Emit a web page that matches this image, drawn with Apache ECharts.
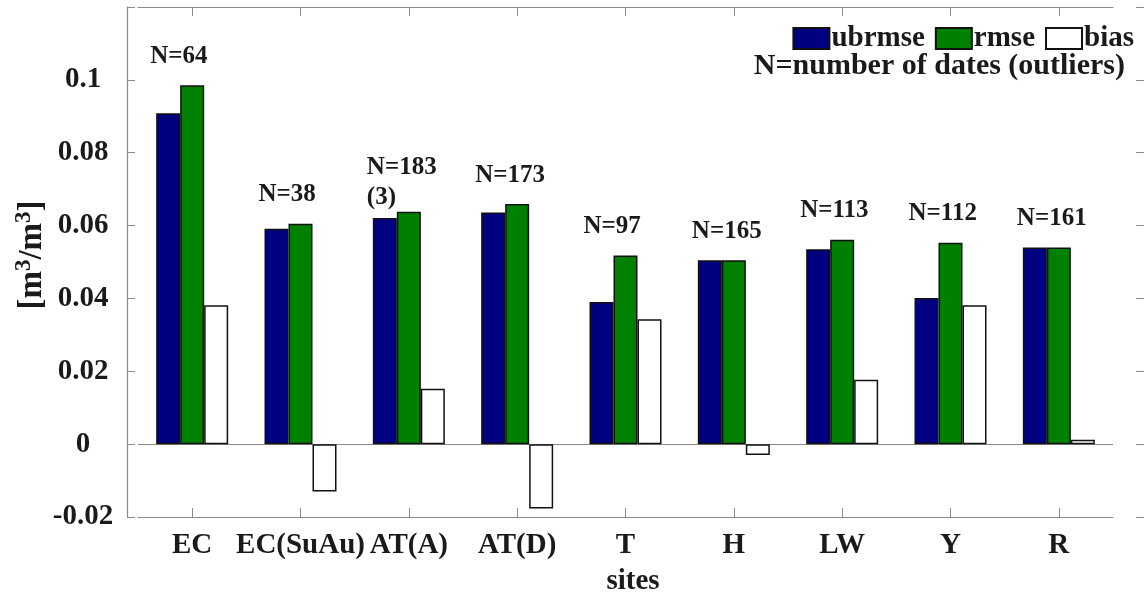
<!DOCTYPE html>
<html>
<head>
<meta charset="utf-8">
<script src="https://cdn.jsdelivr.net/npm/echarts@6/dist/echarts.min.js"></script>
<style>
  html, body { margin: 0; padding: 0; background: #ffffff; }
  #chart { width: 1144px; height: 601px; }
</style>
</head>
<body>
<div id="chart"></div>
<script>
// Soil moisture error metrics per site
const sites    = ['EC', 'EC(SuAu)', 'AT(A)', 'AT(D)', 'T', 'H', 'LW', 'Y', 'R'];
const ubrmse   = [0.0908, 0.0591, 0.0621, 0.0636, 0.0390, 0.0505, 0.0535, 0.0401, 0.0540];
const rmse     = [0.0985, 0.0605, 0.0638, 0.0659, 0.0518, 0.0505, 0.0561, 0.0553, 0.0540];
const bias     = [0.0381, -0.0130, 0.0152, -0.0177, 0.0343, -0.0030, 0.0177, 0.0381, 0.0012];
const nDates   = [64, 38, 183, 173, 97, 165, 113, 112, 161];
const outliers = [null, null, 3, null, null, null, null, null, null];
const yTicks   = { min: -0.02, max: 0.12, step: 0.02 };

const FONT = 'Liberation Serif';
const TEXT = '#1a1a1a';
const AXIS = '#8a8a8a';
const EDGE = '#111111';

function nLabel(i) {
  return 'N=' + nDates[i] + (outliers[i] != null ? '\n(' + outliers[i] + ')' : '');
}

const chart = echarts.init(document.getElementById('chart'), null, { renderer: 'canvas' });

const barBase = {
  type: 'bar',
  barWidth: 24,
  barGap: '0%'
};

chart.setOption({
  animation: false,
  backgroundColor: '#ffffff',
  textStyle: { fontFamily: FONT, fontWeight: 'bold', color: TEXT },
  title: {
    text: 'N=number of dates (outliers)',
    right: 19,
    top: 51,
    padding: 0,
    textStyle: { fontFamily: FONT, fontWeight: 'bold', fontSize: 30, color: TEXT }
  },
  legend: {
    right: 10,
    top: 24,
    padding: 0,
    itemWidth: 36,
    itemHeight: 21,
    itemGap: 10,
    icon: 'rect',
    textStyle: { fontFamily: FONT, fontWeight: 'bold', fontSize: 29, color: TEXT, padding: [0, 0, 0, -3] },
    data: ['ubrmse', 'rmse', 'bias']
  },
  grid: { left: 138, right: 31, top: 7, bottom: 82 },
  xAxis: [
    {
      type: 'category',
      data: sites,
      position: 'bottom',
      axisLine: { show: true, onZero: false, lineStyle: { color: AXIS, width: 1.2 } },
      axisTick: { show: true, inside: true, length: 9, alignWithLabel: true, lineStyle: { color: AXIS } },
      axisLabel: { margin: 14, fontFamily: FONT, fontWeight: 'bold', fontSize: 29, color: TEXT, interval: 0 },
      name: 'sites',
      nameLocation: 'middle',
      nameGap: 50,
      nameMoveOverlap: false,
      nameTextStyle: { fontFamily: FONT, fontWeight: 'bold', fontSize: 29, color: TEXT, padding: [0, 0, 0, 15] }
    },
    {
      type: 'category',
      data: sites,
      position: 'top',
      axisLine: { show: true, onZero: false, lineStyle: { color: AXIS, width: 1.2 } },
      axisTick: { show: true, inside: true, length: 9, alignWithLabel: true, lineStyle: { color: AXIS } },
      axisLabel: { show: false }
    }
  ],
  yAxis: [
    {
      type: 'value',
      min: yTicks.min,
      max: yTicks.max,
      interval: yTicks.step,
      offset: 11,
      splitLine: { show: false },
      axisLine: { show: true, lineStyle: { color: AXIS, width: 1.2 } },
      axisTick: { show: true, inside: true, length: 8, lineStyle: { color: AXIS } },
      axisLabel: {
        margin: 44,
        align: 'center',
        fontFamily: FONT, fontWeight: 'bold', fontSize: 29, color: TEXT,
        formatter: v => (v > yTicks.max - yTicks.step / 2 ? '' : String(parseFloat(v.toFixed(4))))
      },
      name: '[m{s|3}/m{s|3}]',
      nameLocation: 'middle',
      nameRotate: 90,
      nameGap: 76,
      nameMoveOverlap: false,
      nameTextStyle: {
        fontFamily: FONT, fontWeight: 'bold', fontSize: 33, color: TEXT,
        padding: [0, 0, 0, 14],
        rich: {
          s: { fontFamily: FONT, fontWeight: 'bold', fontSize: 23, color: TEXT, verticalAlign: 'top', padding: [0, 0, 15, 0] }
        }
      }
    },
    {
      type: 'value',
      min: yTicks.min,
      max: yTicks.max,
      interval: yTicks.step,
      position: 'right',
      offset: 31,
      splitLine: { show: false },
      axisLine: { show: false },
      axisTick: { show: true, inside: true, length: 8, lineStyle: { color: AXIS } },
      axisLabel: { show: false }
    }
  ],
  series: [
    Object.assign({}, barBase, {
      name: 'ubrmse',
      data: ubrmse,
      itemStyle: { color: '#000080', borderColor: EDGE, borderWidth: 1.5 },
      markLine: {
        silent: true,
        symbol: 'none',
        label: { show: false },
        lineStyle: { color: AXIS, width: 1.2, type: 'solid' },
        data: [{ yAxis: 0 }],
        z: 1
      }
    }),
    Object.assign({}, barBase, {
      name: 'rmse',
      data: rmse,
      itemStyle: { color: '#008000', borderColor: EDGE, borderWidth: 1.5 },
      label: {
        show: true,
        position: 'top',
        distance: 29,
        align: 'left',
        verticalAlign: 'middle',
        offset: [-42, 0],
        lineHeight: 30,
        fontFamily: FONT, fontWeight: 'bold', fontSize: 25, color: TEXT,
        formatter: p => nLabel(p.dataIndex)
      }
    }),
    Object.assign({}, barBase, {
      name: 'bias',
      data: bias,
      itemStyle: { color: '#ffffff', borderColor: EDGE, borderWidth: 1.5 }
    })
  ]
});
</script>
</body>
</html>
